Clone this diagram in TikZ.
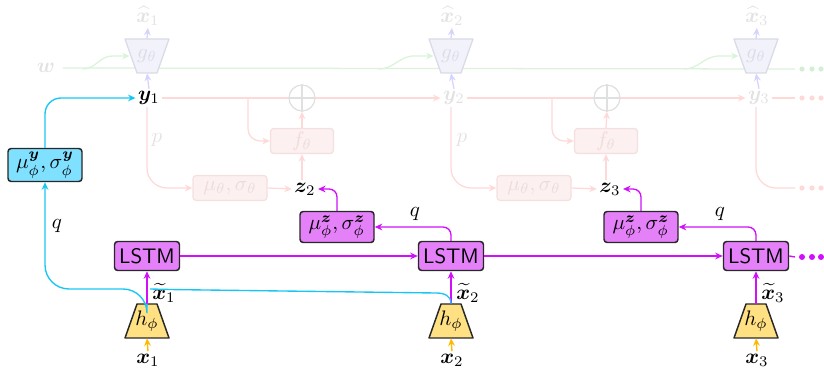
\documentclass[tikz,border=0pt]{standalone}
\usepackage{amsmath,amssymb,bm}
\usetikzlibrary{arrows.meta,calc}

\definecolor{magline}{RGB}{208,16,250}
\definecolor{magfill}{RGB}{228,128,248}
\definecolor{cyline}{RGB}{24,198,245}
\definecolor{cyfill}{RGB}{128,224,255}
\definecolor{yelfill}{RGB}{255,224,130}
\definecolor{orline}{RGB}{255,184,0}
\definecolor{boxdraw}{RGB}{40,40,40}
\definecolor{fadetext}{RGB}{226,226,226}
\definecolor{lavfill}{RGB}{242,242,251}
\definecolor{lavdraw}{RGB}{218,218,232}
\definecolor{lavline}{RGB}{212,212,255}
\definecolor{lavtext}{RGB}{220,220,232}
\definecolor{redline}{RGB}{255,216,216}
\definecolor{redfill}{RGB}{253,240,240}
\definecolor{reddraw}{RGB}{245,224,224}
\definecolor{redtext}{RGB}{238,220,220}
\definecolor{grnline}{RGB}{218,243,218}
\definecolor{grndot}{RGB}{212,238,212}
\definecolor{circdraw}{RGB}{224,224,224}

% lengths given in pixel units of the drawing grid
\newcommand\pxl[1]{#1*0.476pt}

\begin{document}
\begin{tikzpicture}[x=0.476pt,y=-0.476pt,
  tip/.style={-{Stealth[length=3.6pt,width=3.2pt]}},
  box/.style={draw=boxdraw, line width=0.7pt, rounded corners=1.5pt, inner sep=0pt},
  lstmbox/.style={box, fill=magfill, minimum width=\pxl{65}, minimum height=\pxl{29}, font=\sffamily},
  muzbox/.style={box, fill=magfill, minimum width=\pxl{74}, minimum height=\pxl{31}},
  muybox/.style={box, fill=cyfill, minimum width=\pxl{74}, minimum height=\pxl{33}},
  trapbox/.style={minimum width=\pxl{44}, minimum height=\pxl{34}, inner sep=0pt},
  hbody/.style={draw=boxdraw, fill=yelfill, line width=0.7pt, line join=round},
  gbody/.style={draw=lavdraw, fill=lavfill, line width=0.6pt, line join=round},
  fbox/.style={draw=reddraw, fill=redfill, text=redtext, rounded corners=1.5pt, line width=0.6pt,
    inner sep=0pt, minimum width=\pxl{63}, minimum height=\pxl{25}},
  mutbox/.style={fbox, minimum width=\pxl{74}},
  plusnode/.style={circle, draw=circdraw, line width=0.6pt, minimum size=\pxl{26}, inner sep=0pt},
  faded/.style={text=fadetext},
  lab/.style={inner sep=1pt},
  magarr/.style={tip, draw=magline, line width=0.65pt},
  cyarr/.style={tip, draw=cyline, line width=0.65pt},
  cyln/.style={draw=cyline, line width=0.65pt},
  orarr/.style={tip, draw=orline, line width=0.65pt},
  lavarr/.style={tip, draw=lavline, line width=0.6pt},
  redarr/.style={tip, draw=redline, line width=0.6pt},
  redln/.style={draw=redline, line width=0.6pt},
  grnarr/.style={tip, draw=grnline, line width=0.6pt},
  grnln/.style={draw=grnline, line width=0.6pt},
]
\useasboundingbox (0,0) rectangle (824,370);

% ---------------- nodes ----------------
% decoder outputs
\node[lab, faded] (xh1) at (148,16) {$\widehat{\bm{x}}_1$};
\node[lab, faded] (xh2) at (452,16) {$\widehat{\bm{x}}_2$};
\node[lab, faded] (xh3) at (757,16) {$\widehat{\bm{x}}_3$};

\node[lab, faded] (w) at (46,68) {$\bm{w}$};

% latent y states
\node[lab] (y1) at (149,98) {$\bm{y}_1$};
\node[lab, faded] (y2) at (454,98) {$\bm{y}_2$};
\node[lab, faded] (y3) at (759,98) {$\bm{y}_3$};

\coordinate (gend) at (795,69);
\coordinate (yend) at (795,98);
\coordinate (pend) at (795,188);
\coordinate (lend) at (795,257);
\coordinate (fb1) at (248,98);
\coordinate (fb2) at (552,98);

% green w line drawn beneath the decoders
\draw[grnln, shorten <=\pxl{5}] (w.east) -- (gend);

% decoders g (narrow end down) and encoders h (narrow end up)
\foreach \i/\xx in {1/147,2/451,3/756}{
  \draw[gbody] (\xx-22,39) -- (\xx+22,39) -- (\xx+10,73) -- (\xx-10,73) -- cycle;
  \node[trapbox, text=lavtext] (g\i) at (\xx,56) {$g_\theta$};
  \draw[hbody] (\xx-22,338) -- (\xx+22,338) -- (\xx+10,304) -- (\xx-10,304) -- cycle;
  \node[trapbox] (h\i) at (\xx,321) {$h_\phi$};
}

\node[plusnode] (pl1) at (302,98) {};
\node[plusnode] (pl2) at (607,98) {};

\node[fbox] (f1) at (302,141) {$f_\theta$};
\node[fbox] (f2) at (606,141) {$f_\theta$};

\node[mutbox] (mt1) at (230,188) {$\mu_\theta,\sigma_\theta$};
\node[mutbox] (mt2) at (534,188) {$\mu_\theta,\sigma_\theta$};

\node[lab] (z2) at (305,189) {$\bm{z}_2$};
\node[lab] (z3) at (610,189) {$\bm{z}_3$};

\node[muzbox] (mz1) at (337,227) {$\mu^{\bm{z}}_\phi,\sigma^{\bm{z}}_\phi$};
\node[muzbox] (mz2) at (641,227) {$\mu^{\bm{z}}_\phi,\sigma^{\bm{z}}_\phi$};

\node[muybox] (my) at (45,165) {$\mu^{\bm{y}}_\phi,\sigma^{\bm{y}}_\phi$};

\node[lstmbox] (l1) at (147,256) {LSTM};
\node[lstmbox] (l2) at (451,256) {LSTM};
\node[lstmbox] (l3) at (756,256) {LSTM};

\node[lab] (x1) at (148,360) {$\bm{x}_1$};
\node[lab] (x2) at (452,360) {$\bm{x}_2$};
\node[lab] (x3) at (757,360) {$\bm{x}_3$};

% ---------------- generative part (faded) ----------------
\foreach \i in {1,2,3}{
  \draw[lavarr] (g\i.north) -- (xh\i.south);
  \draw[lavarr] (y\i.north) -- (g\i.south);
}
% w feeding each decoder
\draw[grnarr] ($(g1.west)+(-42,13)$) .. controls +(14,0) and +(-14,0) .. ($(g1.west)+(-12,0)$) -- ($(g1.west)+(5,0)$);
\draw[grnarr] ($(g2.west)+(-50,13)$) .. controls +(16,0) and +(-16,0) .. ($(g2.west)+(-14,0)$) -- ($(g2.west)+(5,0)$);
\draw[grnarr] ($(g3.west)+(-50,13)$) .. controls +(16,0) and +(-16,0) .. ($(g3.west)+(-14,0)$) -- ($(g3.west)+(5,0)$);

% y transitions
\draw[redln] (y1.east) -- (pl1.west);
\draw[redarr] (pl1.east) -- (y2.west);
\draw[redln] (y2.east) -- (pl2.west);
\draw[redarr] (pl2.east) -- (y3.west);
\draw[redln] (y3.east) -- (yend);
\foreach \i in {1,2}{
  \draw[draw=circdraw, line width=0.6pt] (pl\i.north) -- (pl\i.south) (pl\i.west) -- (pl\i.east);
  \draw[redarr] (f\i.north) -- (pl\i.south);
  \draw[redarr, rounded corners=\pxl{12}] (fb\i) |- (f\i.west);
}
\draw[redarr] (z2.north -| f1.south) -- (f1.south);
\draw[redarr] (z3.north -| f2.south) -- (f2.south);

% prior p
\draw[redarr, rounded corners=\pxl{20}] (y1.south -| g1.south) |- (mt1.west);
\draw[redarr, rounded corners=\pxl{20}] (y2.south -| g2.south) |- (mt2.west);
\draw[redln, rounded corners=\pxl{20}] (y3.south -| g3.south) |- (pend);
\draw[redarr] (mt1.east) -- (z2.west);
\draw[redarr] (mt2.east) -- (z3.west);
\node[lab, faded] (p1) at (157,140) {$p$};
\node[lab, faded] (p2) at (462,140) {$p$};

% ---------------- inference part ----------------
\foreach \i in {1,2,3}{
  \draw[orarr] (x\i.north) -- (h\i.south);
  \draw[magarr] (h\i.north) -- (l\i.south);
}
\node[lab] (xt1) at (164,293) {$\widetilde{\bm{x}}_1$};
\node[lab] (xt2) at (468,293) {$\widetilde{\bm{x}}_2$};
\node[lab] (xt3) at (773,293) {$\widetilde{\bm{x}}_3$};

\draw[magarr] (l1.east) -- (l2.west);
\draw[magarr] (l2.east) -- (l3.west);
\draw[draw=magline, line width=0.65pt] (l3.east) -- (lend);

\draw[magarr, rounded corners=\pxl{8}] (l2.north) |- (mz1.east);
\draw[magarr, rounded corners=\pxl{8}] (l3.north) |- (mz2.east);
\draw[magarr, rounded corners=\pxl{8}] (mz1.north) |- (z2.east);
\draw[magarr, rounded corners=\pxl{8}] (mz2.north) |- (z3.east);
\node[lab] (q2) at (415,214) {$q$};
\node[lab] (q3) at (720,214) {$q$};

% q for y, fed by the encoded frames
\coordinate (qbend) at (45,289);
\coordinate (qjoin) at (175,289.6);
\coordinate (qturn) at (436,293);
\draw[cyarr, rounded corners=\pxl{24}] (h1.north) |- (qbend) -- (my.south);
\draw[cyln] (h2.north) .. controls +(0,-8) and +(8,0) .. (qturn) -- (qjoin) -- ++(-25,-0.6);
\draw[cyarr, rounded corners=\pxl{16}] (my.north) |- (y1.west);
\node[lab] (q1) at (57,226) {$q$};

% continuation dots
\foreach \xx in {802,812,821}{
  \fill[grndot] (\xx,69) circle[radius=2.6];
  \fill[redline] (\xx,98) circle[radius=2.6];
  \fill[redline] (\xx,188) circle[radius=2.6];
  \fill[magline] (\xx,257) circle[radius=3];
}
\end{tikzpicture}
\end{document}
